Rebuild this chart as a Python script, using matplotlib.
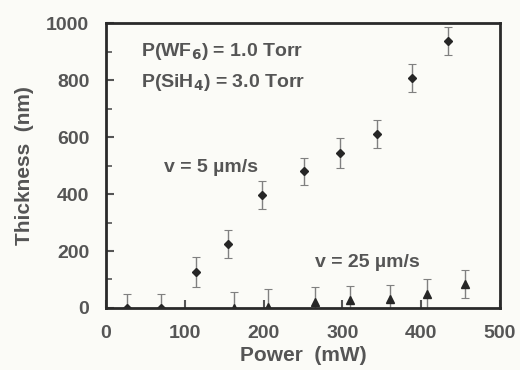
import matplotlib.pyplot as plt
from matplotlib.ticker import MultipleLocator

# v = 5 um/s (diamonds)
power_5 = [27, 70, 114, 155, 198, 251, 297, 344, 388, 434]
thick_5 = [0, 0, 126, 224, 396, 480, 544, 610, 807, 937]
err_5 = [50, 50, 52, 50, 50, 48, 52, 50, 50, 48]

# v = 25 um/s (triangles)
power_25 = [162, 206, 265, 310, 360, 407, 456]
thick_25 = [0, 5, 22, 28, 30, 48, 84]
err_25 = [55, 60, 50, 48, 50, 52, 50]

plt.rcParams['font.family'] = ['Liberation Sans', 'DejaVu Sans']
plt.rcParams['font.weight'] = 'bold'
plt.rcParams['axes.labelweight'] = 'bold'
plt.rcParams['mathtext.default'] = 'bf'
ink = '#555555'
bg = '#fbfbf7'

fig = plt.figure(figsize=(5.2, 3.7), dpi=100, facecolor=bg)
ax = fig.add_axes([0.2038, 0.1676, 0.7577, 0.770])
ax.set_facecolor(bg)

ax.errorbar(power_5, thick_5, yerr=err_5, fmt='D', ms=4, color='#262626',
            ecolor='#808080', elinewidth=1, capsize=3, capthick=0.8)
ax.errorbar(power_25, thick_25, yerr=err_25, fmt='^', ms=6, color='#262626',
            ecolor='#808080', elinewidth=1, capsize=3, capthick=0.8)

ax.set_xlim(0, 500)
ax.set_ylim(0, 1000)
ax.xaxis.set_major_locator(MultipleLocator(100))
ax.yaxis.set_major_locator(MultipleLocator(200))
ax.yaxis.set_minor_locator(MultipleLocator(100))
ax.tick_params(axis='both', which='major', direction='in', length=6, width=1.5,
               colors=ink, labelsize=14)
ax.tick_params(axis='y', which='major', pad=12)
ax.tick_params(axis='x', which='major', pad=12)
ax.tick_params(axis='y', which='minor', direction='in', length=4, width=1.2, color=ink)
for s in ax.spines.values():
    s.set_linewidth(2)
    s.set_color('#2a2a2a')

ax.set_xlabel('Power  (mW)', fontsize=15, color=ink, labelpad=3)
ax.set_ylabel('Thickness  (nm)', fontsize=15, color=ink, labelpad=9)

ax.text(0.09, 0.90, 'P(WF$_6$) = 1.0 Torr', transform=ax.transAxes,
        fontsize=14, color=ink, va='center')
ax.text(0.09, 0.79, 'P(SiH$_4$) = 3.0 Torr', transform=ax.transAxes,
        fontsize=14, color=ink, va='center')
ax.text(0.147, 0.493, 'v = 5 \u00b5m/s', transform=ax.transAxes,
        fontsize=14, color=ink, va='center')
ax.text(0.53, 0.158, 'v = 25 \u00b5m/s', transform=ax.transAxes,
        fontsize=14, color=ink, va='center')

fig.savefig('out.png', dpi=100, facecolor=fig.get_facecolor())
